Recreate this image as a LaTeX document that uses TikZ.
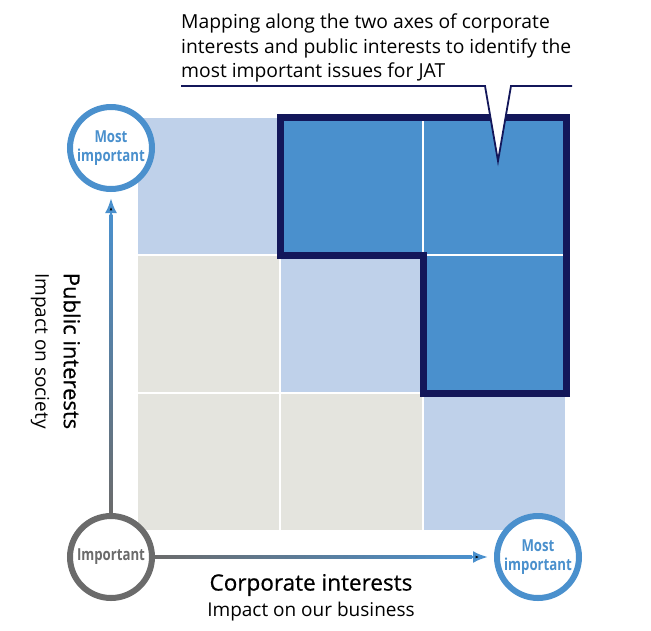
\documentclass[tikz,border=0pt]{standalone}
\usepackage{fontspec}
\setmainfont{Open Sans}
\newfontfamily\condfont[FakeStretch=0.8]{Open Sans}
\newfontfamily\medfont[FakeBold=0.6]{Open Sans}
\usepackage{tikz}
\usetikzlibrary{arrows.meta,calc}
\definecolor{paleblue}{HTML}{BFD1EA}
\definecolor{midblue}{HTML}{4A90CD}
\definecolor{stone}{HTML}{E4E4DE}
\definecolor{navy}{HTML}{13175A}
\definecolor{ringgray}{HTML}{6B6B6B}

\begin{document}
\begin{tikzpicture}
            [x=1pt,y=-1pt,
            cell/.style={draw=white,line width=1.5pt},
            ring/.style={circle,draw,fill=white,line width=6pt,minimum size=82pt,inner sep=0pt,align=center,
              font=\condfont\bfseries\fontsize{16.5}{19}\selectfont},
            axisarrow/.style={-{Latex[length=15pt,width=12pt]},line width=2.6pt,draw=midblue,shorten >=6pt}]
            \useasboundingbox (0,0) rectangle (651,630);

            \foreach \x/\y/\c in {0/0/paleblue,1/0/midblue,2/0/midblue,
                                  0/1/stone,1/1/paleblue,2/1/midblue,
                                  0/2/stone,1/2/stone,2/2/paleblue}
              \path [cell,fill=\c] (137+143*\x,117+138*\y) rectangle ++(143,138);

            \draw [navy,line width=7pt] (280,117) -- (566,117) -- (566,393) -- (423,393) -- (423,255) -- (280,255) -- cycle;

            \node [anchor=north west,align=left,inner sep=0pt,font=\fontsize{19.3}{24.5}\selectfont] (title) at (181,14)
              {Mapping along the two axes of corporate\\interests and public interests to identify the\\most important issues for JAT};
            \draw [navy,line width=1.8pt,fill=white] (181,86) -- (485,86) -- (498,161) -- (511,86) -- (572,86);

            \node [ring,draw=midblue,text=midblue] (topmost) at (111,148) {Most\\important};
            \node [ring,draw=ringgray,text=ringgray] (imp) at (111,557) {Important};
            \node [ring,draw=midblue,text=midblue] (rightmost) at (538,557) {Most\\important};

            \path [axisarrow] (imp) edge (topmost);
            \path [axisarrow] (imp) edge (rightmost);
            \shade [bottom color=ringgray,top color=midblue] ($(imp.north)+(-1.3,0)$) rectangle ($(topmost.south)+(1.3,22)$);
            \shade [left color=ringgray,right color=midblue] ($(imp.east)+(0,-1.3)$) rectangle ($(rightmost.west)+(-22,1.3)$);

            \node [font=\medfont\fontsize{22.5}{22.5}\selectfont] (corp) at (311,585) {Corporate interests};
            \node [font=\fontsize{19}{19}\selectfont] (corpsub) at (311,612) {Impact on our business};
            \node [rotate=-90,font=\medfont\fontsize{22}{22}\selectfont] (pub) at (72,351) {Public interests};
            \node [rotate=-90,font=\fontsize{19}{19}\selectfont] (pubsub) at (40,351) {Impact on society};
        \end{tikzpicture}
\end{document}
